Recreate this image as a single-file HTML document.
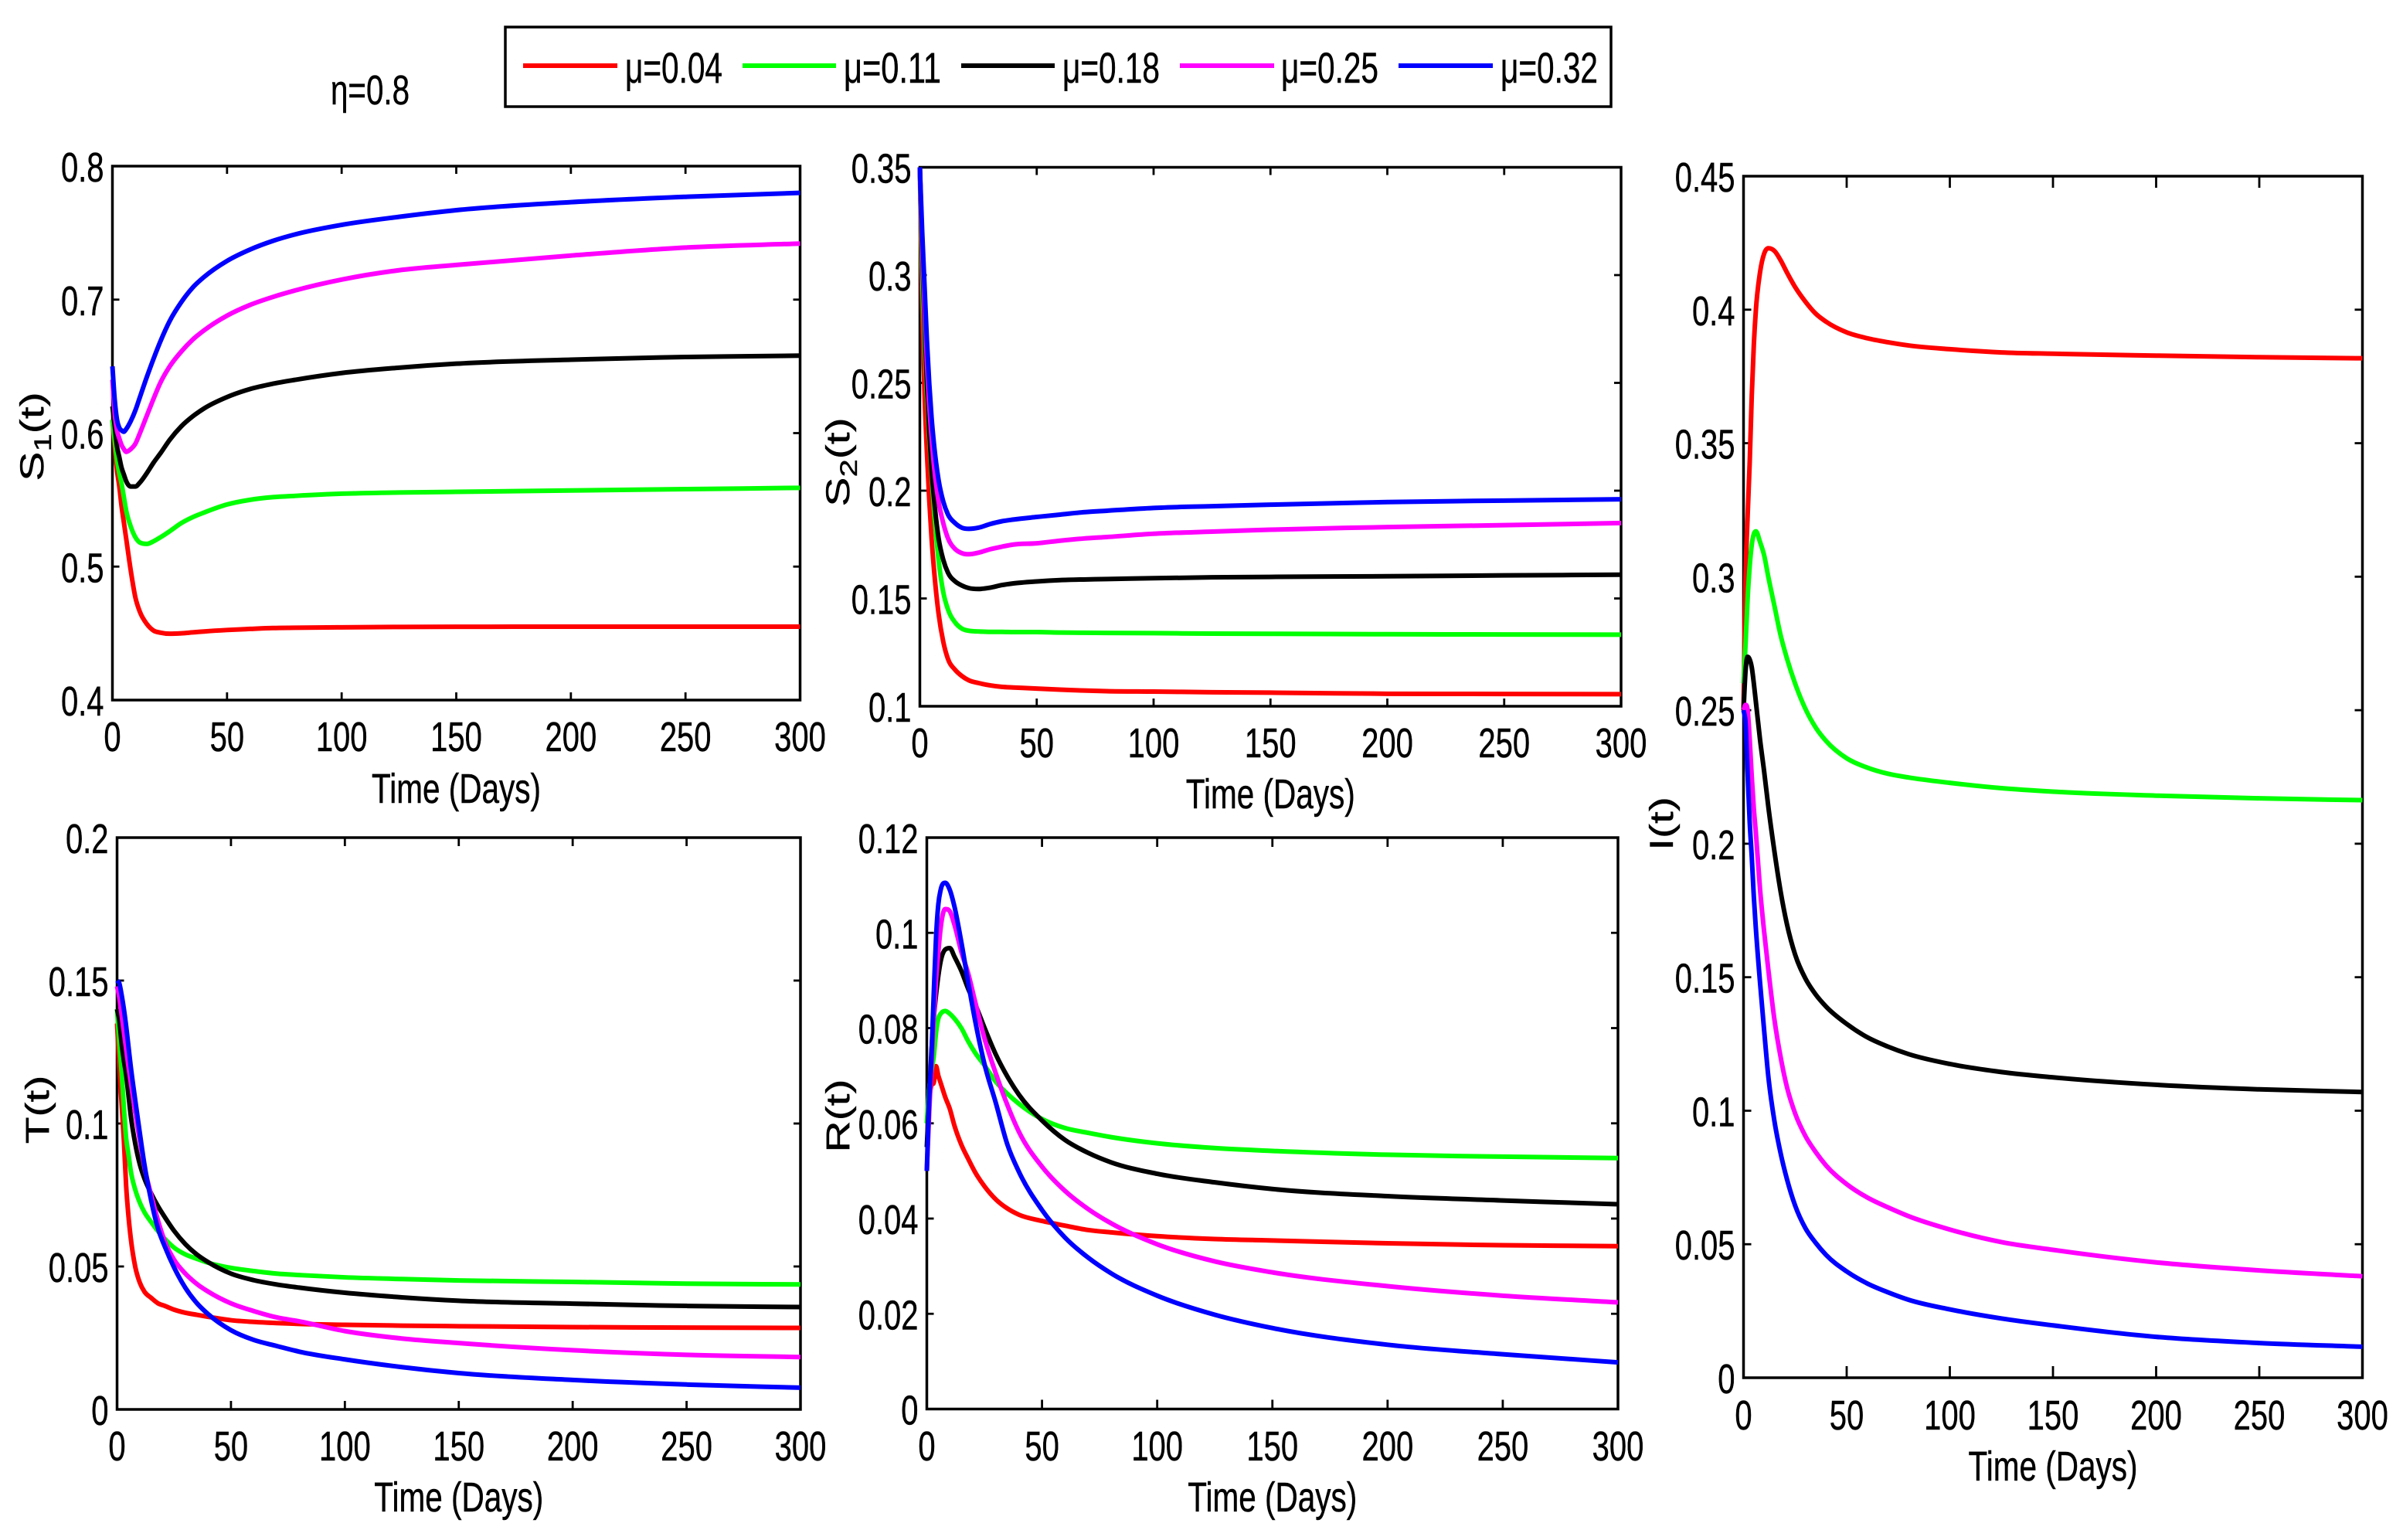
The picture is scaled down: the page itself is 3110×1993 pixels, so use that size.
<!DOCTYPE html>
<html lang="en">
<head>
<meta charset="utf-8">
<title>Model compartments over time for varying mu</title>
<style>
html,body{margin:0;padding:0;background:#fff;}
svg{display:block;}
text{font-family:"Liberation Sans",sans-serif;fill:#000;stroke:#000;stroke-width:0.5px;}
</style>
</head>
<body>
<svg id="figure" xmlns="http://www.w3.org/2000/svg" width="3110" height="1993" viewBox="0 0 3110 1993">
  <rect x="0" y="0" width="3110" height="1993" fill="#fff"/>
  <text x="428" y="135" font-size="54" textLength="102" lengthAdjust="spacingAndGlyphs">η=0.8</text>
  <g>
    <rect x="654" y="35" width="1431" height="103" fill="#fff" stroke="#000" stroke-width="3.5"/>
    <g>
      <line x1="677" y1="85" x2="799" y2="85" stroke="#ff0000" stroke-width="6"/>
      <text x="809" y="107" font-size="56" textLength="126" lengthAdjust="spacingAndGlyphs">μ=0.04</text>
    </g>
    <g>
      <line x1="961" y1="85" x2="1082" y2="85" stroke="#00ff00" stroke-width="6"/>
      <text x="1092" y="107" font-size="56" textLength="126" lengthAdjust="spacingAndGlyphs">μ=0.11</text>
    </g>
    <g>
      <line x1="1244" y1="85" x2="1365" y2="85" stroke="#000000" stroke-width="6"/>
      <text x="1375" y="107" font-size="56" textLength="126" lengthAdjust="spacingAndGlyphs">μ=0.18</text>
    </g>
    <g>
      <line x1="1527" y1="85" x2="1649" y2="85" stroke="#ff00ff" stroke-width="6"/>
      <text x="1658" y="107" font-size="56" textLength="126" lengthAdjust="spacingAndGlyphs">μ=0.25</text>
    </g>
    <g>
      <line x1="1810" y1="85" x2="1932" y2="85" stroke="#0000ff" stroke-width="6"/>
      <text x="1942" y="107" font-size="56" textLength="126" lengthAdjust="spacingAndGlyphs">μ=0.32</text>
    </g>
  </g>
</svg>
<script>
// Shared data: sample times (days)
const times = [0,1,2,3,4,5,6,8,10,12,15,18,21,25,30,35,40,50,60,70,80,100,125,150,200,250,300];
const xTicks = [0,50,100,150,200,250,300];

// S1(t)
const s1Ticks = [0.4,0.5,0.6,0.7,0.8];
const s1Red = [.61,.59,.572,.56,.545,.533,.521,.497,.477,.466,.457,.452,.4505,.4497,.45,.4507,.4514,.4525,.4533,.454,.4542,.4545,.4548,.4549,.455,.455,.455];
const s1Green = [.61,.595,.58,.57,.562,.552,.542,.53,.522,.518,.517,.519,.522,.5265,.5325,.537,.5405,.5465,.55,.552,.553,.5546,.5555,.556,.557,.558,.559];
const s1Black = [.62,.605,.59,.582,.574,.569,.564,.56,.56,.563,.57,.578,.585,.595,.605,.6125,.6185,.627,.633,.637,.64,.645,.649,.652,.655,.657,.658];
const s1Magenta = [.64,.615,.602,.596,.591,.588,.586,.588,.592,.6,.613,.626,.638,.65,.661,.67,.677,.688,.696,.702,.707,.715,.722,.726,.733,.739,.742];
const s1Blue = [.65,.625,.61,.604,.602,.601,.603,.609,.617,.627,.642,.656,.669,.684,.698,.709,.717,.729,.7375,.744,.749,.756,.762,.767,.773,.777,.78];

// S2(t)
const s2Ticks = [0.1,0.15,0.2,0.25,0.3,0.35];
const s2Red = [.35,.285,.245,.218,.196,.178,.164,.143,.13,.122,.117,.114,.112,.1108,.1097,.109,.1087,.1082,.1077,.1073,.107,.1068,.1065,.1063,.1058,.1057,.1056];
const s2Green = [.35,.3,.27,.245,.225,.208,.192,.168,.153,.145,.139,.136,.135,.1347,.1345,.1345,.1344,.1344,.1342,.1341,.134,.1339,.1337,.1336,.1334,.1333,.1332];
const s2Black = [.35,.31,.278,.25,.228,.21,.197,.178,.168,.162,.158,.156,.1548,.1544,.155,.1562,.157,.1579,.1585,.1588,.159,.1594,.1598,.16,.1603,.1607,.161];
const s2Magenta = [.35,.315,.285,.26,.24,.225,.212,.195,.185,.178,.173,.171,.1705,.1712,.1728,.174,.175,.1756,.1768,.1778,.1785,.18,.181,.1819,.1831,.184,.185];
const s2Blue = [.35,.32,.295,.27,.25,.234,.222,.205,.195,.189,.185,.1828,.1823,.1828,.1845,.1858,.1866,.1878,.1889,.19,.1907,.192,.1928,.1935,.1947,.1954,.196];

// I(t)
const iTicks = [0,0.05,0.1,0.15,0.2,0.25,0.3,0.35,0.4,0.45];
const iRed = [.25,.3,.323,.343,.368,.387,.4,.414,.421,.423,.422,.4185,.414,.4085,.403,.3985,.3955,.3915,.3893,.3878,.3866,.3852,.384,.3835,.3828,.3822,.3818];
const iGreen = [.26,.275,.292,.304,.312,.316,.317,.313,.308,.3,.289,.278,.2695,.26,.2505,.2435,.2385,.232,.2285,.2262,.2248,.2228,.2208,.2195,.218,.217,.2163];
const iBlack = [.25,.265,.27,.269,.266,.26,.253,.239,.227,.214,.197,.182,.17,.1585,.1495,.1435,.139,.1325,.1275,.124,.1212,.1175,.1145,.1125,.1097,.108,.107];
const iMagenta = [.25,.252,.25,.239,.225,.213,.204,.183,.167,.153,.134,.12,.109,.099,.0905,.0845,.0795,.0725,.0675,.0638,.0605,.0555,.0508,.0479,.0432,.0402,.038];
const iBlue = [.25,.245,.226,.208,.195,.18,.168,.148,.13,.113,.096,.084,.0745,.0645,.056,.0505,.046,.0398,.0353,.032,.0292,.0256,.0222,.0196,.0153,.013,.0116];

// T(t)
const tTicks = [0,0.05,0.1,0.15,0.2];
const tRed = [.135,.12,.107,.094,.078,.0677,.06,.0498,.0443,.0412,.039,.0371,.0362,.0349,.0338,.0331,.0324,.0312,.0306,.0302,.0299,.0296,.0293,.0291,.0288,.0286,.0285];
const tGreen = [.14,.128,.118,.1056,.0948,.0893,.0835,.0768,.0723,.069,.0655,.0623,.0596,.0566,.0542,.0527,.0513,.0495,.0484,.0475,.047,.0462,.0456,.0451,.0446,.044,.0437];
const tBlack = [.14,.136,.128,.122,.117,.11,.1029,.0929,.0857,.0808,.0755,.071,.0672,.0625,.0578,.0542,.0515,.0475,.0452,.0437,.0426,.0408,.0392,.038,.037,.0362,.0358];
const tMagenta = [.148,.144,.138,.132,.126,.12,.1146,.1038,.0939,.0848,.0749,.066,.0587,.0524,.0475,.0439,.0412,.0371,.0344,.0322,.0308,.0274,.0248,.0232,.0207,.0191,.0183];
const tBlue = [.15,.149,.145,.14,.134,.127,.12,.108,.0966,.0857,.073,.0632,.0569,.0497,.0425,.0372,.0333,.0277,.0243,.0222,.0202,.0175,.0148,.0127,.0103,.0087,.0076];

// R(t)
const rTicks = [0,0.02,0.04,0.06,0.08,0.1,0.12];
const rRed = [.06,.065,.068,.0685,.072,.07,.0685,.0655,.063,.0595,.0555,.0525,.0497,.0468,.044,.0421,.0408,.0395,.0385,.0376,.0371,.0363,.0357,.0354,.0348,.0344,.0342];
const rGreen = [.06,.067,.071,.074,.079,.082,.083,.0836,.083,.082,.08,.0772,.0748,.0722,.0687,.0662,.0641,.0609,.059,.058,.0571,.0558,.0548,.0542,.0534,.053,.0527];
const rBlack = [.055,.065,.075,.082,.087,.091,.094,.0965,.0968,.095,.092,.0882,.085,.0801,.0744,.0698,.066,.0606,.0565,.0538,.0518,.0494,.0476,.0462,.0447,.0438,.043];
const rMagenta = [.05,.062,.072,.082,.09,.096,.101,.105,.1045,.1017,.096,.0914,.0855,.0779,.0704,.0638,.0582,.0509,.0458,.042,.039,.0346,.031,.0287,.0258,.0238,.0224];
const rBlue = [.05,.065,.074,.087,.099,.106,.109,.1105,.109,.1055,.098,.0895,.0815,.0725,.0642,.0555,.0498,.0418,.036,.0318,.0285,.0238,.0198,.017,.0135,.0115,.0098];

const colors = ['#ff0000','#00ff00','#000000','#ff00ff','#0000ff'];
const seriesLabels = ['mu-0.04','mu-0.11','mu-0.18','mu-0.25','mu-0.32'];
const SVGNS = 'http://www.w3.org/2000/svg';
const figure = document.getElementById('figure');
const TEXT_SX = 0.74;

const panels = [
  {id:'s1', box:[145.5,215,1035.5,906], yMin:.4, yMax:.8, ticks:s1Ticks, series:[s1Red,s1Green,s1Black,s1Magenta,s1Blue],
   tickY:9, tickX:10, xLabelBase:972, timeBase:1039, yLabel:{main:'S',sub:'1',rest:'(t)',x:56,y:565}},
  {id:'s2', box:[1190.5,216.5,2098,914], yMin:.1, yMax:.35, ticks:s2Ticks, series:[s2Red,s2Green,s2Black,s2Magenta,s2Blue],
   tickY:9, tickX:10, xLabelBase:980, timeBase:1046, yLabel:{main:'S',sub:'2',rest:'(t)',x:1099,y:598}},
  {id:'i', box:[2256.5,228,3057.5,1783], yMin:0, yMax:.45, ticks:iTicks, series:[iRed,iGreen,iBlack,iMagenta,iBlue],
   tickY:10, tickX:15, xLabelBase:1850, timeBase:1916, yLabel:{main:'I',sub:'',rest:'(t)',x:2165,y:1066}},
  {id:'t', box:[151.5,1084,1036,1824], yMin:0, yMax:.2, ticks:tTicks, series:[tRed,tGreen,tBlack,tMagenta,tBlue],
   tickY:9, tickX:11, xLabelBase:1890, timeBase:1956, yLabel:{main:'T',sub:'',rest:'(t)',x:63,y:1436}},
  {id:'r', box:[1199.5,1084,2094,1823.5], yMin:0, yMax:.12, ticks:rTicks, series:[rRed,rGreen,rBlack,rMagenta,rBlue],
   tickY:9, tickX:12, xLabelBase:1890, timeBase:1956, yLabel:{main:'R',sub:'',rest:'(t)',x:1099,y:1444}}
];

function make(tag, attrs, parent){
  const el = document.createElementNS(SVGNS, tag);
  for (const k in attrs) el.setAttribute(k, attrs[k]);
  parent.appendChild(el);
  return el;
}

// Cubic path through the samples: weighted three-point tangents, limited to stay monotone
function smoothPath(px, py){
  const n = px.length, d = [], h = [], m = [];
  for (let i = 0; i < n - 1; i++){
    h.push(px[i+1] - px[i]);
    d.push((py[i+1] - py[i]) / h[i]);
  }
  m.push(d[0]);
  for (let i = 1; i < n - 1; i++){
    if (d[i-1] * d[i] <= 0){ m.push(0); continue; }
    const p = (d[i-1] * h[i] + d[i] * h[i-1]) / (h[i-1] + h[i]);
    const lim = 3 * Math.min(Math.abs(d[i-1]), Math.abs(d[i]));
    m.push(Math.sign(p) * Math.min(Math.abs(p), lim));
  }
  m.push(d[n-2]);
  let s = 'M' + px[0].toFixed(2) + ' ' + py[0].toFixed(2);
  for (let i = 0; i < n - 1; i++){
    const k = h[i] / 3;
    s += 'C' + (px[i] + k).toFixed(2) + ' ' + (py[i] + m[i] * k).toFixed(2) + ' ' +
         (px[i+1] - k).toFixed(2) + ' ' + (py[i+1] - m[i+1] * k).toFixed(2) + ' ' +
         px[i+1].toFixed(2) + ' ' + py[i+1].toFixed(2);
  }
  return s;
}

panels.forEach(function(p){
  const L = p.box[0], T = p.box[1], R = p.box[2], B = p.box[3];
  const xAxis = function(v){ return L + (v / 300) * (R - L); };
  const yAxis = function(v){ return B - ((v - p.yMin) / (p.yMax - p.yMin)) * (B - T); };

  const g = make('g', {}, figure);
  
  

  const frame = make('rect', {x:L, y:T, width:R-L, height:B-T, fill:'#fff', stroke:'#000', 'stroke-width':3.5}, g);
  
  

  xTicks.forEach(function(v){
    const x = xAxis(v);
    const t1 = make('line', {x1:x, y1:B, x2:x, y2:B-p.tickX, stroke:'#000', 'stroke-width':2.8}, g);
    
    
    const t2 = make('line', {x1:x, y1:T, x2:x, y2:T+p.tickX, stroke:'#000', 'stroke-width':2.8}, g);
    
    
    const lab = make('text', {'font-size':54, 'text-anchor':'middle', transform:'translate(' + x + ',' + p.xLabelBase + ') scale(' + TEXT_SX + ',1)'}, g);
    
    
    lab.textContent = String(v);
  });

  p.ticks.forEach(function(v){
    const y = yAxis(v);
    const t1 = make('line', {x1:L, y1:y, x2:L+p.tickY, y2:y, stroke:'#000', 'stroke-width':2.8}, g);
    
    
    const t2 = make('line', {x1:R, y1:y, x2:R-p.tickY, y2:y, stroke:'#000', 'stroke-width':2.8}, g);
    
    
    const lab = make('text', {'font-size':54, 'text-anchor':'end', transform:'translate(' + (L-11) + ',' + (y+20) + ') scale(' + TEXT_SX + ',1)'}, g);
    
    
    lab.textContent = String(v);
  });

  const time = make('text', {'font-size':54, 'text-anchor':'middle', transform:'translate(' + ((L+R)/2) + ',' + p.timeBase + ') scale(0.75,1)'}, g);
  
  
  time.textContent = 'Time (Days)';

  const yl = make('text', {'font-size':57, 'text-anchor':'middle', transform:'translate(' + p.yLabel.x + ',' + p.yLabel.y + ') scale(0.75,1) rotate(-90)'}, g);
  
  
  const a = make('tspan', {}, yl);
  a.textContent = p.yLabel.main;
  if (p.yLabel.sub){
    const b = make('tspan', {'font-size':42, dy:13}, yl);
    b.textContent = p.yLabel.sub;
    const c = make('tspan', {dy:-13}, yl);
    c.textContent = p.yLabel.rest;
  } else {
    const c = make('tspan', {}, yl);
    c.textContent = p.yLabel.rest;
  }

  p.series.forEach(function(values, i){
    const px = times.map(xAxis);
    const py = values.map(yAxis);
    const line = make('path', {d:smoothPath(px, py), fill:'none', stroke:colors[i], 'stroke-width':6, 'stroke-linejoin':'round'}, g);
    
    
  });
});
</script>
</body>
</html>
